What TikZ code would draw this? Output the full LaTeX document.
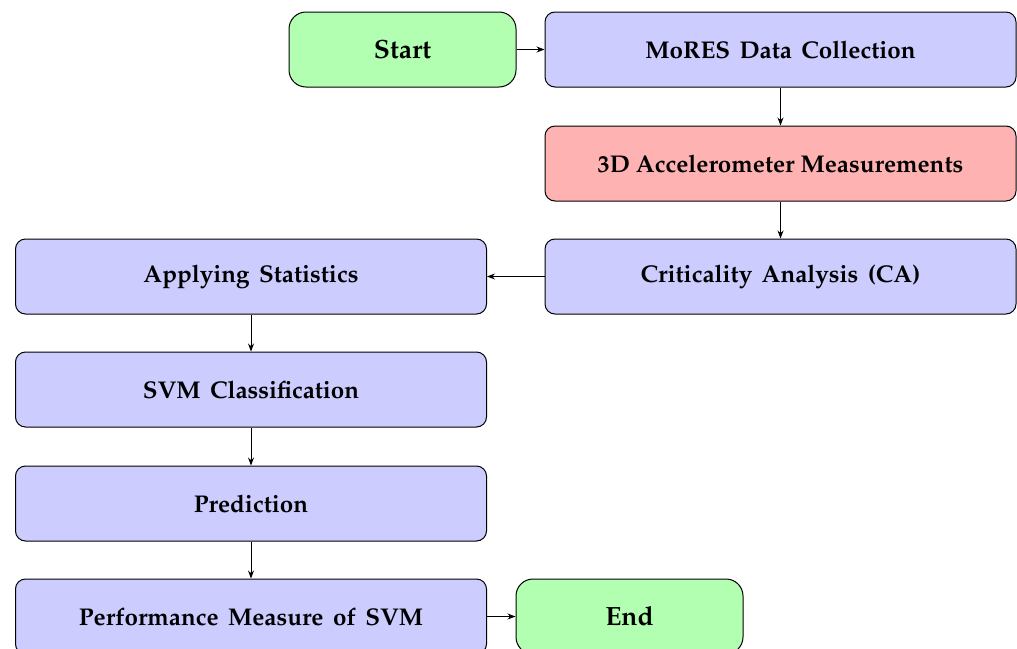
\documentclass[tikz,border=0pt]{standalone}
\usepackage[T1]{fontenc}
\usepackage{mathpazo}
\usetikzlibrary{arrows.meta}
\definecolor{boxblue}{RGB}{204,204,255}
\definecolor{boxgreen}{RGB}{178,255,178}
\definecolor{boxred}{RGB}{255,178,178}
\newcommand\wsp{\hskip 0.39em\relax}
\tikzset{
  procbox/.style={draw=black, line width=0.5pt, rounded corners=5pt, fill=boxblue,
    minimum width=235.5pt, minimum height=37.5pt, inner sep=2pt,
    font=\fontsize{12.1}{14}\selectfont\bfseries},
  termbox/.style={procbox, fill=boxgreen, minimum width=113.5pt, rounded corners=8.5pt,
    font=\fontsize{13.2}{16}\selectfont\bfseries},
  conn/.style={draw=black, line width=0.5pt, -{Stealth[length=4pt,width=3pt]}}
}
\begin{document}
\begin{tikzpicture}[x=0.5pt,y=-0.5pt]
\useasboundingbox (0,0) rectangle (1017,648);
\node[termbox] (start) at (402.5,49.5) {Start};
\node[procbox] (mores) at (780.5,49.5) {MoRES\wsp Data\wsp Collection};
\node[procbox, fill=boxred] (acc) at (780.5,163.5) {3D Accelerometer Measurements};
\node[procbox] (ca) at (780.5,276.5) {Criticality\wsp Analysis\wsp (CA)};
\node[procbox] (stat) at (251,276.5) {Applying\wsp Statistics};
\node[procbox] (svm) at (251,389.5) {SVM\wsp Classification};
\node[procbox] (pred) at (251,503.5) {Prediction};
\node[procbox] (perf) at (251,616.5) {Performance\wsp Measure\wsp of\wsp SVM};
\node[termbox] (end) at (629.5,616.5) {End};
\draw[conn] (start) -- (mores);
\draw[conn] (mores) -- (acc);
\draw[conn] (acc) -- (ca);
\draw[conn] (ca) -- (stat);
\draw[conn] (stat) -- (svm);
\draw[conn] (svm) -- (pred);
\draw[conn] (pred) -- (perf);
\draw[conn] (perf) -- (end);
\end{tikzpicture}
\end{document}
